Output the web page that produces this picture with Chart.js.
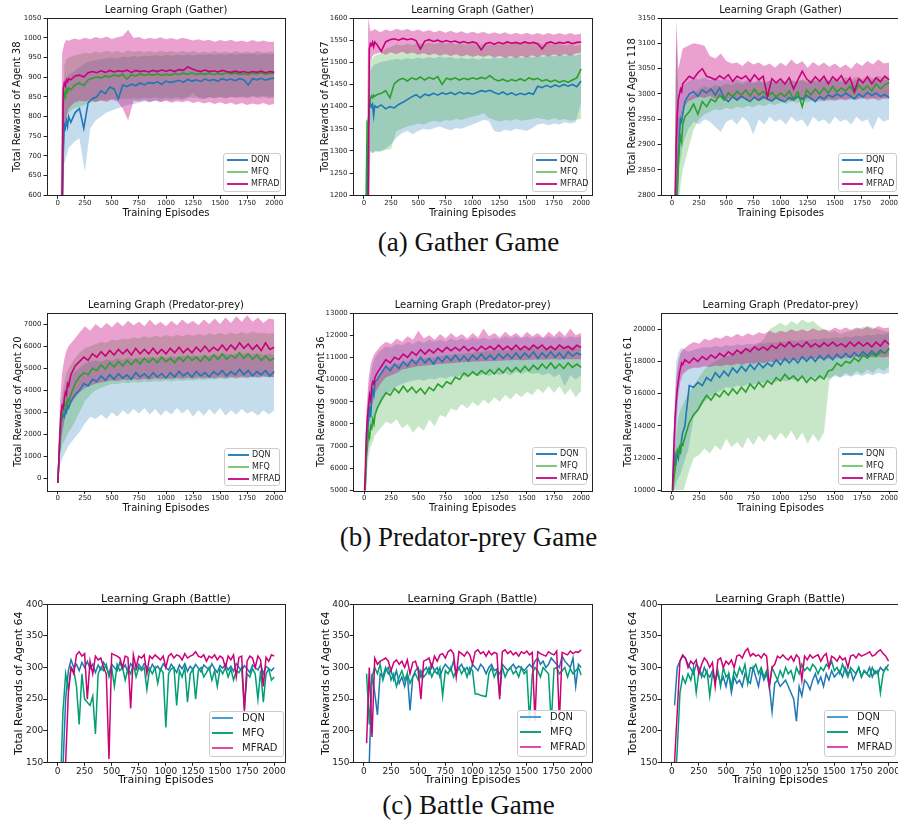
<!DOCTYPE html>
<html>
<head>
<meta charset="utf-8">
<script src="https://cdn.jsdelivr.net/npm/chart.js@4.4.0/dist/chart.umd.min.js"></script>
<style>
body { margin: 0; width: 898px; height: 820px; overflow: hidden; background: #fff; position: relative; font-family: "DejaVu Sans", sans-serif; }
canvas { position: absolute; }
.lg { position: absolute; border: 1px solid #ccc; border-radius: 3px; background: rgba(255,255,255,0.85); box-sizing: border-box; }
.lg div { position: absolute; white-space: nowrap; color: #222; }
.lg span { position: absolute; height: 2px; }
.cap { position: absolute; left: 0; width: 937px; text-align: center; font: 27px "Liberation Serif", serif; line-height: 30px; color: #111; }
</style>
</head>
<body>
<div class="cap" style="top:227px">(a) Gather Game</div>
<div class="cap" style="top:522px">(b) Predator-prey Game</div>
<div class="cap" style="top:790px">(c) Battle Game</div>
<script>
//episode grids (x values)
var epL = [0,10,20,30,40,50,60,70,80,90,100,
  120,160,200,240,280,320,360,400,440,480,520,560,
  600,640,680,720,760,800,840,880,920,960,1000,1040,
  1080,1120,1160,1200,1240,1280,1320,1360,1400,1440,1480,1520,
  1560,1600,1640,1680,1720,1760,1800,1840,1880,1920,1960,2000];
var epB = [0,20,40,60,80,100,
  150,200,250,300,350,400,450,500,550,600,
  650,700,750,800,850,900,950,1000,1050,1100,
  1150,1200,1250,1300,1350,1400,1450,1500,1550,1600,
  1650,1700,1750,1800,1850,1900,1950,2000];
var epC = [25,50,75,100,125,150,175,200,225,250,
  275,300,325,350,375,400,425,450,475,500,
  525,550,575,600,625,650,675,700,725,750,
  775,800,825,850,875,900,925,950,975,1000,
  1025,1050,1075,1100,1125,1150,1175,1200,1225,1250,
  1275,1300,1325,1350,1375,1400,1425,1450,1475,1500,
  1525,1550,1575,1600,1625,1650,1675,1700,1725,1750,
  1775,1800,1825,1850,1875,1900,1925,1950,1975,2000];

var xTicks = [0,250,500,750,1000,1250,1500,1750,2000];
var seriesNames = ['DQN', 'MFQ', 'MFRAD'];

//Gather - agent 38
var g38_yTicks = [600,650,700,750,800,850,900,950,1000,1050];
var g38_dqn = [450,450,450,450,520,700,780,770,790,775,800,
  785,810,820,770,835,845,850,865,858,875,870,845,
  880,876,882,878,885,880,886,884,888,882,890,886,
  889,892,887,894,890,893,889,895,891,894,890,896,
  892,895,891,896,893,880,896,893,897,892,896,897];
var g38_mfq = [450,450,450,450,560,830,860,850,870,862,872,
  868,880,885,878,893,897,900,898,903,900,906,902,
  907,895,906,903,908,904,907,905,908,904,907,905,
  909,906,910,907,911,906,909,907,910,906,909,907,
  911,908,910,907,909,906,910,908,911,907,910,909];
var g38_mfrad = [450,450,450,450,600,870,885,878,893,888,896,
  893,903,905,900,911,914,911,916,912,917,913,916,
  914,918,912,917,914,916,913,917,914,918,915,918,
  914,919,917,926,921,917,914,918,914,916,913,917,
  914,912,915,912,914,911,914,912,915,911,914,912];
var g38_mfradHi = [450,450,960,985,995,992, 998,995,1000,996,1002,998,1003,997,1001,1004,
  1020,999,1002,996,1000,997,1001,996,999,995, 1000,997,993,996,992,995,990,994,991,995,
  990,993,989,994,990,993,989,990];
var g38_mfradLo = [450,450,500,760,800,820, 835,840,838,842,836,841,837,843,838,820,
  790,840,838,842,837,841,836,840,835,839, 836,840,834,838,833,837,832,836,831,835,
  830,834,829,833,830,834,829,832];
var g38_mfqHi = [450,450,600,930,945,950, 955,958,962,960,965,962,967,963,966,962,
  968,964,967,963,966,962,967,963,966,962, 967,963,966,961,965,962,966,962,965,961,
  966,962,965,961,966,962,965,963];
var g38_mfqLo = [450,450,450,790,800,810, 820,825,830,835,838,840,842,845,843,846,
  844,847,845,848,846,849,845,848,846,849, 846,850,847,849,846,850,847,849,846,850,
  847,849,846,850,847,849,846,848];
var g38_dqnHi = [450,450,600,880,900,905, 915,925,935,940,943,945,948,950,947,952,
  950,954,951,955,952,956,953,957,954,957, 955,958,955,958,956,959,956,959,957,960,
  957,960,958,960,957,960,958,959];
var g38_dqnLo = [450,450,450,680,700,720, 735,745,660,770,790,800,810,815,820,825,
  830,832,835,838,836,840,838,842,840,844, 842,846,860,846,844,848,846,850,847,850,
  848,851,849,852,850,852,850,851];

//Gather - agent 67
var g67_yTicks = [1200,1250,1300,1350,1400,1450,1500,1550,1600];
var g67_dqn = [1100,1100,1100,1150,1360,1395,1408,1400,1405,1380,1402,
  1398,1404,1395,1400,1397,1405,1410,1416,1422,1427,1420,1428,
  1425,1430,1426,1431,1428,1432,1427,1433,1429,1431,1428,1432,
  1436,1434,1437,1432,1428,1433,1427,1431,1426,1430,1427,1431,
  1428,1446,1443,1448,1444,1449,1445,1450,1446,1450,1445,1458];
var g67_mfq = [1100,1100,1180,1362,1355,1400,1418,1424,1420,1426,1423,
  1427,1430,1436,1420,1452,1460,1464,1458,1465,1461,1467,1460,
  1466,1462,1468,1450,1464,1461,1465,1460,1464,1461,1465,1462,
  1466,1463,1470,1462,1458,1462,1457,1461,1458,1463,1458,1465,
  1461,1464,1458,1461,1456,1460,1455,1459,1455,1460,1465,1485];
var g67_mfrad = [1100,1100,1100,1100,1150,1530,1542,1538,1545,1535,1546,
  1540,1525,1546,1551,1553,1550,1554,1551,1553,1549,1530,1548,
  1551,1547,1550,1546,1549,1546,1548,1544,1547,1543,1546,1543,
  1528,1542,1545,1541,1545,1542,1546,1543,1545,1542,1546,1543,
  1545,1542,1530,1543,1546,1542,1545,1543,1546,1542,1545,1546];
var g67_mfradHi = [1100,1100,1600,1570,1572,1575, 1568,1574,1570,1576,1572,1575,1570,1574,1569,1573,
  1568,1572,1567,1571,1566,1570,1565,1569,1565,1569, 1564,1568,1564,1568,1563,1567,1563,1567,1562,1566,
  1562,1566,1562,1566,1562,1566,1562,1565];
var g67_mfradLo = [1100,1100,1100,1500,1515,1518, 1522,1517,1523,1518,1524,1519,1522,1517,1521,1516,
  1520,1515,1519,1514,1518,1513,1517,1512,1516,1512, 1516,1511,1515,1510,1514,1510,1515,1511,1516,1512,
  1517,1513,1518,1514,1519,1515,1520,1522];
var g67_mfqHi = [1100,1100,1400,1500,1510,1515, 1520,1530,1535,1540,1538,1542,1539,1543,1540,1544,
  1541,1545,1542,1544,1540,1543,1539,1542,1538,1542, 1539,1543,1540,1544,1541,1545,1542,1545,1541,1544,
  1540,1543,1539,1542,1538,1541,1537,1540];
var g67_mfqLo = [1100,1100,1100,1300,1295,1300, 1298,1302,1305,1345,1350,1355,1358,1362,1360,1365,
  1368,1365,1370,1368,1372,1370,1374,1378,1380,1385, 1375,1370,1366,1370,1368,1372,1368,1370,1372,1375,
  1372,1370,1374,1370,1372,1368,1370,1372];
var g67_dqnHi = [1100,1100,1100,1480,1490,1495, 1500,1503,1505,1508,1506,1510,1507,1511,1508,1512,
  1509,1513,1510,1512,1508,1511,1507,1510,1506,1510, 1507,1511,1508,1512,1509,1513,1510,1514,1511,1515,
  1512,1516,1513,1517,1514,1518,1515,1520];
var g67_dqnLo = [1100,1100,1100,1300,1295,1298, 1300,1305,1315,1330,1340,1345,1338,1345,1350,1348,
  1352,1355,1350,1347,1352,1350,1355,1360,1365,1370, 1368,1345,1342,1348,1345,1350,1348,1345,1352,1360,
  1362,1358,1362,1360,1365,1362,1365,1410];

//Gather - agent 118
var g118_yTicks = [2800,2850,2900,2950,3000,3050,3100,3150];
var g118_dqn = [2700,2700,2700,2700,2750,2820,2880,2920,2950,2945,2960,
  2985,3000,3005,2995,3008,3002,3010,2998,3012,2992,2985,2995,
  2988,2996,2990,2985,2994,2988,2995,2990,2986,2993,2988,2985,
  2993,2988,2995,2990,2997,2992,2985,2995,2990,2998,2994,3000,
  2995,3002,2996,2990,3000,2994,3003,2997,3002,2995,2999,2993];
var g118_mfq = [2700,2700,2700,2700,2750,2800,2860,2900,2915,2905,2940,
  2955,2965,2980,2960,2985,2975,2990,2985,2998,2988,3002,2995,
  3005,2998,3008,2996,3010,2998,3005,2995,3003,2994,3002,2995,
  3006,2990,3004,2975,3008,2998,3010,3000,3012,3002,3015,3004,
  3012,3006,3015,3002,3018,3008,3016,3006,3020,3010,3018,3022];
var g118_mfrad = [2700,2700,2700,2780,2900,2960,2990,3000,3010,3005,3020,
  3025,3035,3030,3042,3050,3035,3032,3028,3036,3030,3038,3025,
  3035,3030,3036,3025,3038,3028,3035,2995,3030,3022,3030,3020,
  3032,3010,3028,3045,3030,3022,3034,3025,3035,3020,3034,3026,
  3036,3020,3032,3005,3030,3022,3034,3020,3032,3024,3035,3028];
var g118_mfradHi = [2700,2700,3150,3050,3070,3090, 3095,3100,3098,3095,3075,3070,3080,3065,3060,3062,
  3055,3065,3058,3062,3055,3060,3052,3062,3055,3068, 3058,3065,3052,3063,3055,3062,3054,3060,3052,3058,
  3050,3062,3055,3065,3058,3068,3060,3062];
var g118_mfradLo = [2700,2700,2700,2900,2950,2970, 2985,2990,2995,2992,2996,2990,2994,2988,2993,2987,
  2992,2986,2991,2985,2990,2986,2991,2985,2990,2986, 2992,2987,2991,2986,2990,2985,2990,2986,2991,2987,
  2992,2988,2993,2988,2992,2987,2991,2990];
var g118_mfqHi = [2700,2700,3100,2950,2960,2975, 2990,3000,3010,3015,3012,3018,3015,3020,3017,3022,
  3019,3024,3020,3025,3021,3026,3022,3027,3023,3028, 3024,3029,3025,3030,3026,3031,3027,3032,3028,3033,
  3029,3034,3030,3035,3031,3036,3032,3035];
var g118_mfqLo = [2700,2700,2700,2780,2820,2850, 2890,2930,2950,2960,2965,2970,2968,2973,2970,2975,
  2972,2977,2974,2979,2976,2981,2978,2983,2980,2985, 2982,2986,2983,2988,2984,2989,2986,2990,2987,2991,
  2988,2992,2989,2993,2990,2994,2991,2995];
var g118_dqnHi = [2700,2700,3120,3000,3010,3015, 3025,3030,3028,3032,3027,3031,3026,3030,3025,3029,
  3024,3028,3023,3027,3022,3026,3021,3025,3022,3026, 3023,3027,3022,3026,3023,3027,3024,3028,3023,3027,
  3024,3028,3025,3029,3026,3030,3027,3028];
var g118_dqnLo = [2700,2700,2700,2850,2870,2900, 2930,2945,2940,2950,2945,2935,2925,2945,2950,2940,
  2955,2945,2920,2950,2940,2955,2945,2950,2940,2955, 2945,2950,2935,2955,2945,2950,2940,2955,2945,2950,
  2940,2955,2945,2950,2930,2955,2945,2950];

//Predator-prey - agent 20
var p20_yTicks = [0,1000,2000,3000,4000,5000,6000,7000];
var p20_dqn = [-200,800,1800,2500,2700,2900,2800,3100,3000,3300,3200,
  3500,3800,4000,4300,4200,4500,4400,4650,4450,4700,4500,4750,
  4550,4700,4500,4800,4600,4750,4550,4800,4600,4750,4550,4800,
  4600,4850,4650,4800,4600,4850,4650,4800,4600,4850,4700,4900,
  4650,4850,4700,4950,4700,4900,4650,4850,4700,4900,4650,4850];
var p20_mfq = [-200,800,1900,2600,2900,3100,3200,3400,3300,3600,3500,
  3800,4300,4600,4800,4700,5000,4900,5150,4950,5250,5050,5300,
  5100,5350,5150,5400,5200,5450,5250,5450,5250,5500,5300,5450,
  5250,5500,5300,5550,5350,5500,5300,5550,5350,5600,5400,5650,
  5400,5600,5450,5700,5450,5650,5400,5600,5350,5550,5350,5450];
var p20_mfrad = [-200,900,2200,3000,3300,3200,3600,3900,3800,4300,4200,
  4700,5100,5300,5500,5350,5650,5500,5750,5550,5800,5600,5850,
  5650,5850,5600,5900,5650,5850,5650,5900,5650,5850,5650,5900,
  5700,5950,5700,5900,5700,5950,5750,6000,5750,5950,5800,6050,
  5800,6050,5850,6150,5900,6100,5850,6050,5800,6150,5850,5950];
var p20_mfradHi = [-200,3500,4800,5400,5800,6000, 6300,6600,6900,6700,7000,6800,7050,6850,7100,6900,
  7150,6950,7100,6900,7200,6950,7100,6900,7150,6950, 7200,7000,7150,6950,7200,7000,7250,7000,7300,7050,
  7350,7100,7400,7100,7300,7050,7250,7200];
var p20_mfradLo = [-200,1200,2000,2600,3000,3200, 3600,3900,4100,4200,4300,4350,4400,4450,4420,4480,
  4450,4500,4460,4520,4480,4540,4500,4550,4510,4560, 4520,4570,4530,4580,4540,4590,4550,4600,4560,4610,
  4570,4620,4580,4630,4590,4640,4600,4600];
var p20_mfqHi = [-200,2600,3800,4400,4800,5000, 5400,5700,5900,6000,6100,6200,6150,6300,6250,6350,
  6300,6400,6350,6450,6380,6480,6400,6500,6420,6520, 6440,6540,6460,6560,6480,6580,6500,6600,6520,6620,
  6540,6640,6560,6660,6580,6620,6560,6600];
var p20_mfqLo = [-200,1000,1500,1700,1900,2100, 2500,3000,3500,3800,4000,4100,4200,4300,4280,4350,
  4320,4380,4350,4400,4370,4420,4390,4440,4400,4450, 4420,4470,4440,4490,4460,4510,4480,4530,4500,4550,
  4520,4570,4540,4590,4560,4600,4580,4600];
var p20_dqnHi = [-200,2300,3500,4000,4300,4500, 4800,5000,5200,5300,5350,5300,5400,5350,5450,5380,
  5480,5400,5500,5420,5520,5440,5540,5460,5560,5480, 5580,5500,5600,5520,5620,5540,5640,5560,5660,5580,
  5680,5600,5700,5620,5680,5600,5660,5600];
var p20_dqnLo = [-200,600,900,1100,1300,1500, 1800,2100,2500,2800,2700,2900,2700,3000,2800,3100,
  2900,3150,2950,3200,2900,3150,2850,3100,2900,3200, 2950,3150,2800,3100,2850,3150,2900,3200,2850,3100,
  2900,3150,2950,3050,2850,3100,2900,3100];

//Predator-prey - agent 36
var p36_yTicks = [5000,6000,7000,8000,9000,10000,11000,12000,13000];
var p36_dqn = [4500,5200,6800,7600,8200,8800,8300,9200,9500,9300,9900,
  10000,10300,10600,10400,10700,10500,10800,10600,10900,10700,11000,10750,
  10950,10700,11000,10800,11050,10850,11100,10850,11050,10850,11100,10900,
  11150,10900,11100,10900,11150,10950,11150,10950,11200,10950,11200,11000,
  11250,10950,11200,11000,11250,11000,11200,10950,11250,11050,11200,11100];
var p36_mfq = [4500,5000,6500,7000,7600,7400,7900,7800,8200,8000,8400,
  8700,9100,9400,9300,9600,9400,9700,9450,9650,9400,9600,9350,
  9650,9500,9800,9650,9900,9800,10100,10000,10300,10150,10350,10200,
  10400,10250,10450,10250,10500,10300,10550,10350,10550,10350,10600,10400,
  10650,10450,10700,10500,10750,10500,10700,10500,10750,10550,10700,10550];
var p36_mfrad = [4500,5800,7500,8300,8800,9300,9100,9700,9900,9800,10100,
  10300,10600,10900,10750,11000,10900,11150,11000,11250,11100,11350,11150,
  11350,11200,11400,11250,11450,11300,11450,11300,11500,11300,11450,11300,
  11500,11350,11500,11350,11550,11350,11500,11350,11550,11350,11500,11350,
  11550,11400,11550,11350,11500,11350,11550,11400,11500,11350,11550,11450];
var p36_mfradHi = [4500,8500,10000,10700,11000,11200, 11500,11700,11600,11850,11700,11950,11800,12200,11850,12000,
  11800,12050,11850,12100,11900,12050,11850,12100,11900,12300, 11950,12100,11900,12150,11950,12100,11900,12150,11950,12100,
  11900,12150,11950,12200,11950,12300,12000,12100];
var p36_mfradLo = [4500,6500,7800,8500,9000,9400, 9800,10100,10200,10300,10450,10500,10550,10600,10620,10650,
  10680,10700,10720,10740,10760,10780,10790,10800,10810,10820, 10830,10840,10850,10860,10870,10880,10870,10880,10890,10900,
  10890,10900,10910,10900,10910,10920,10910,10920];
var p36_mfqHi = [4500,7500,8800,9300,9600,9900, 10300,10500,10600,10700,10750,10800,10850,10900,10950,11000,
  11000,11050,11100,11100,11150,11150,11200,11200,11250,11250, 11300,11300,11350,11300,11350,11400,11350,11400,11400,11450,
  11400,11450,11400,11450,11500,11450,11500,11450];
var p36_mfqLo = [4500,5500,6500,7000,7200,7500, 7800,8100,8000,8200,7800,8000,7600,7900,7700,8200,
  7900,8400,8300,8700,8600,8900,8700,9000,8800,9100, 8900,9200,9000,9300,9100,9400,9200,9450,9300,9600,
  9400,9700,9400,9700,9300,9600,9200,9500];
var p36_dqnHi = [4500,8000,9500,10200,10700,11000, 11300,11500,11450,11600,11550,11700,11600,11750,11650,11800,
  11700,11800,11700,11850,11750,11850,11750,11900,11800,11900, 11800,11900,11800,11950,11850,11950,11850,11950,11850,11950,
  11850,11950,11850,11950,11850,11950,11900,11950];
var p36_dqnLo = [4500,6000,7000,7600,8000,8400, 8900,9300,9500,9700,9800,9900,9950,10000,9950,10050,
  10000,10100,10050,10150,10100,10200,10100,10250,10150,10250, 10150,10300,10200,10300,10200,10350,10250,10350,10250,10300,
  10200,10300,10100,10250,9700,10200,10000,10200];

//Predator-prey - agent 61
var p61_yTicks = [10000,12000,14000,16000,18000,20000];
var p61_dqn = [9000,10200,11500,12200,11800,12300,12000,12600,12400,13200,13600,
  14000,16500,16400,16700,16500,17000,16800,17300,17000,17400,17100,17600,
  17300,17700,17400,17800,17500,17900,17600,17900,17700,18100,17800,18200,
  17900,18200,17900,18300,18000,18300,18000,18350,18100,18400,18100,18450,
  18200,18500,18250,18550,18300,18600,18350,18650,18400,18700,18500,18800];
var p61_mfq = [9000,10000,10800,11300,12000,12500,12300,12700,12500,12900,12800,
  13300,14200,14700,15000,15500,15900,15600,16000,15800,16200,15900,16300,
  16000,16400,16100,16600,16300,16700,16400,16800,16600,17000,16800,17200,
  16900,17100,16800,17100,16700,17000,16800,17100,16900,17400,17500,17900,
  17700,18000,17900,18200,18000,18400,18200,18500,18300,18600,18500,18800];
var p61_mfrad = [9000,11000,13000,14500,15500,16300,16800,17300,17600,17900,17800,
  18100,17900,18200,18000,18300,18100,18400,18200,18500,18300,18600,18400,
  18700,18500,18800,18600,18900,18700,18900,18700,19000,18800,19100,18900,
  19200,18900,19100,18900,19200,18900,19100,18900,19150,18950,19200,18950,
  19100,18900,19200,18950,19200,18950,19150,18900,19200,18950,19300,19050];
var p61_mfradHi = [9000,14000,17000,18000,18500,18700, 19000,19200,19100,19400,19300,19500,19400,19600,19500,19700,
  19550,19750,19600,19800,19700,19900,19750,19900,19800,20000, 19850,20000,19850,20050,19900,20000,19900,20100,19950,20100,
  19950,20100,20000,20150,20000,20200,20050,20100];
var p61_mfradLo = [9000,11000,14000,16000,16800,17200, 17500,17600,17600,17700,17650,17750,17700,17800,17750,17850,
  17800,17900,17850,17950,17900,18000,17950,18050,18000,18100, 18050,18150,18100,18200,18150,18200,18150,18250,18200,18250,
  18200,18300,18250,18300,18250,18300,18250,18300];
var p61_mfqHi = [9000,12000,13500,14500,15000,15300, 16000,16500,17000,17500,17800,18000,18200,18300,18400,18500,
  18700,18800,18900,19100,19400,20000,20200,20400,20200,20500, 20300,20600,20400,20500,20200,20000,19800,19900,19700,19800,
  19900,20000,20100,20200,20100,20000,19900,19800];
var p61_mfqLo = [9000,9500,9500,9500,9500,9800, 11000,12000,12200,12600,12300,12800,12500,13200,12700,13000,
  12600,13300,12800,13400,13000,13500,13100,13600,13200,13700, 13100,13600,12900,13500,13000,13600,16800,17200,17000,17300,
  17100,17400,17200,17500,17300,17600,17400,17700];
var p61_dqnHi = [9000,14500,18000,18500,18800,18800, 18600,18700,18800,18900,18850,18950,18900,19000,18950,19050,
  19000,19100,19050,19150,19100,19200,19150,19250,19200,19300, 19250,19350,19300,19400,19350,19450,19400,19500,19450,19550,
  19500,19600,19550,19650,19600,19700,19650,19800];
var p61_dqnLo = [9000,10000,10500,10800,11000,11500, 12500,14500,15000,15500,15800,16000,16200,16400,16350,16500,
  16450,16600,16550,16700,16650,16800,16700,16850,16750,16900, 16800,16950,16850,17000,16900,17050,16950,17100,17000,17150,
  17050,17200,17100,17250,17150,17300,17200,17300];

//Battle - three runs, agent 64
var battle_yTicks = [150,200,250,300,350,400];
var b1_dqn = [100,140,250,295,312,300,305,295,308,300, 310,298,305,292,304,296,308,300,290,305,
  300,295,308,298,304,292,306,300,296,305, 298,306,300,294,305,298,302,295,306,300,
  296,305,299,292,304,298,306,294,302,297, 305,299,293,304,300,296,306,298,292,303,
  299,305,296,302,294,306,300,295,303,298, 292,304,300,296,305,290,302,298,295,300];
var b1_mfq = [100,230,290,265,300,295,270,210,290,250, 245,240,255,195,290,300,295,305,285,300,
  270,305,295,300,280,298,290,305,285,300, 295,300,265,298,290,300,275,298,292,205,
  290,298,300,240,295,285,300,245,290,298, 250,295,300,285,292,300,280,295,270,298,
  290,300,285,298,280,295,292,300,235,290, 285,298,290,250,295,245,290,298,280,285];
var b1_mfrad = [100,100,150,260,300,290,320,325,318,322, 250,310,290,318,312,315,300,290,155,322,
  320,318,315,300,318,316,235,320,300,318, 315,320,290,318,314,320,316,312,318,300,
  318,322,315,320,318,312,322,315,318,320, 325,318,316,320,310,318,315,320,312,318,
  315,300,318,312,320,285,316,318,230,310, 318,315,300,318,312,270,316,310,320,318];
var b2_dqn = [100,150,290,260,225,290,285,300,290,295, 280,295,275,285,270,290,232,285,295,300,
  285,295,300,290,305,295,300,285,298,305, 300,295,310,290,300,305,295,300,290,305,
  300,295,305,300,290,300,305,295,298,255, 305,300,295,300,305,298,302,300,295,300,
  305,300,310,315,305,310,300,305,315,310, 305,300,318,310,305,300,315,270,305,300];
var b2_mfq = [290,210,285,300,290,305,280,295,300,280, 290,270,285,295,280,290,275,285,290,280,
  295,285,290,300,285,295,290,300,255,295, 290,300,285,295,300,290,298,285,300,295,
  258,258,256,255,254,290,300,285,295,290, 300,285,295,300,290,295,285,300,290,295,
  215,290,300,295,285,300,295,290,210,298, 300,290,295,300,285,298,290,295,300,288];
var b2_mfrad = [180,300,190,315,305,310,312,315,310,295, 308,312,305,310,300,312,290,308,310,295,
  250,310,312,315,300,318,310,320,322,315, 325,328,322,285,325,322,318,325,320,305,
  325,328,322,325,318,326,320,324,322,250, 325,328,322,326,320,324,318,325,322,326,
  320,324,215,325,322,320,318,325,322,320, 326,215,324,322,320,326,322,325,324,328];
var b3_dqn = [240,300,310,318,315,305,298,290,305,300, 285,300,290,285,295,280,290,275,285,270,
  290,260,285,275,280,270,290,280,275,300, 285,270,295,280,290,270,230,275,280,270,
  275,280,270,260,250,215,270,255,280,275, 265,280,290,275,285,270,290,280,295,285,
  290,295,285,300,290,295,280,290,300,285, 295,290,300,285,295,290,300,295,298,305];
var b3_mfq = [100,170,260,285,275,290,280,300,260,295, 290,285,295,255,290,280,295,270,300,285,
  290,270,295,285,300,290,305,275,300,298, 305,290,300,285,295,270,300,290,280,295,
  285,300,290,295,280,300,290,305,295,300, 295,305,300,290,300,295,305,300,310,295,
  300,290,305,295,285,300,295,290,300,285, 295,290,285,300,290,295,260,290,300,295];
var b3_mfrad = [150,230,310,320,315,300,310,305,312,290, 305,315,310,300,308,270,312,315,300,310,
  305,312,300,318,320,315,325,330,318,322, 318,320,315,322,318,270,300,305,318,315,
  320,315,312,318,310,320,315,280,318,312, 320,315,318,320,310,318,322,300,318,315,
  310,318,312,315,300,318,320,315,322,318, 320,322,325,318,320,325,328,322,318,310];

var FONT = '"DejaVu Sans", sans-serif';

//looks of the two kinds of panels
var shadedStyle = {
  lineColors: ['#1f77b4', '#2ca02c', '#c7007d'],
  bandColors: ['rgba(31,119,180,0.26)', 'rgba(44,160,44,0.26)', 'rgba(199,0,125,0.37)'],
  legendColors: ['#2f82c0', '#80c880', '#cc1e8a'],
  lw: 1.6, titleSize: 10, tickSize: 7, yTickPad: 2, labelSize: 10, xTitleBottom: 6,
  legend: {lx: 3, lw: 21, tx: 27, y0: 6, dy: 12, fs: 8}
};
var battleStyle = {
  lineColors: ['#1f77b4', '#009e73', '#cc0077'],
  bandColors: [],
  legendColors: ['#4a9fd8', '#14a27a', '#e04aae'],
  lw: 1.5, titleSize: 11, tickSize: 9, yTickPad: 0, labelSize: 11, xTitleBottom: 13.4,
  legend: {lx: 2, lw: 21, tx: 32, y0: 6, dy: 15, fs: 10}
};

var panels = [
  {box: [0, 0, 300, 225], yW: 47, xH: 29.7, padR: 15, titlePad: {top: 4, bottom: 2}, yPad: 11.3,
   title: 'Learning Graph (Gather)', yLabel: 'Total Rewards of Agent 38', yMin: 600, yMax: 1050, yTicks: g38_yTicks,
   st: shadedStyle, lx: epL, bx: epB, lines: [g38_dqn, g38_mfq, g38_mfrad],
   bands: [[g38_dqnLo, g38_dqnHi], [g38_mfqLo, g38_mfqHi], [g38_mfradLo, g38_mfradHi]], legend: [223, 153, 58, 39]},
  {box: [300, 0, 300, 225], yW: 53, xH: 29.7, padR: 8, titlePad: {top: 4, bottom: 2}, yPad: 19,
   title: 'Learning Graph (Gather)', yLabel: 'Total Rewards of Agent 67', yMin: 1200, yMax: 1600, yTicks: g67_yTicks,
   st: shadedStyle, lx: epL, bx: epB, lines: [g67_dqn, g67_mfq, g67_mfrad],
   bands: [[g67_dqnLo, g67_dqnHi], [g67_mfqLo, g67_mfqHi], [g67_mfradLo, g67_mfradHi]], legend: [532, 153, 55, 39]},
  {box: [600, 0, 300, 225], yW: 61, xH: 29.7, padR: 0, titlePad: {top: 4, bottom: 2}, yPad: 26.3,
   title: 'Learning Graph (Gather)', yLabel: 'Total Rewards of Agent 118', yMin: 2800, yMax: 3150, yTicks: g118_yTicks,
   st: shadedStyle, lx: epL, bx: epB, lines: [g118_dqn, g118_mfq, g118_mfrad],
   bands: [[g118_dqnLo, g118_dqnHi], [g118_mfqLo, g118_mfqHi], [g118_mfradLo, g118_mfradHi]], legend: [838, 153, 59, 39]},

  {box: [0, 290, 300, 230], yW: 47, xH: 29.5, padR: 15, titlePad: {top: 9, bottom: 2}, yPad: 12.3,
   title: 'Learning Graph (Predator-prey)', yLabel: 'Total Rewards of Agent 20', yMin: -540, yMax: 7500, yTicks: p20_yTicks,
   st: shadedStyle, lx: epL, bx: epB, lines: [p20_dqn, p20_mfq, p20_mfrad],
   bands: [[p20_dqnLo, p20_dqnHi], [p20_mfqLo, p20_mfqHi], [p20_mfradLo, p20_mfradHi]], legend: [224, 448, 56, 38]},
  {box: [300, 290, 300, 230], yW: 53.3, xH: 29.5, padR: 8, titlePad: {top: 9, bottom: 2}, yPad: 15.7,
   title: 'Learning Graph (Predator-prey)', yLabel: 'Total Rewards of Agent 36', yMin: 5000, yMax: 13000, yTicks: p36_yTicks,
   st: shadedStyle, lx: epL, bx: epB, lines: [p36_dqn, p36_mfq, p36_mfrad],
   bands: [[p36_dqnLo, p36_dqnHi], [p36_mfqLo, p36_mfqHi], [p36_mfradLo, p36_mfradHi]], legend: [532, 447, 55, 38]},
  {box: [600, 290, 300, 230], yW: 61, xH: 29.5, padR: 0, titlePad: {top: 9, bottom: 2}, yPad: 22.3,
   title: 'Learning Graph (Predator-prey)', yLabel: 'Total Rewards of Agent 61', yMin: 10000, yMax: 21000, yTicks: p61_yTicks,
   st: shadedStyle, lx: epL, bx: epB, lines: [p61_dqn, p61_mfq, p61_mfrad],
   bands: [[p61_dqnLo, p61_dqnHi], [p61_mfqLo, p61_mfqHi], [p61_mfradLo, p61_mfradHi]], legend: [838, 447, 59, 38]},

  {box: [0, 585, 300, 215], yW: 46.7, xH: 37.7, padR: 15, titlePad: {top: 7.4, bottom: -1.3}, yPad: 12.4,
   title: 'Learning Graph (Battle)', yLabel: 'Total Rewards of Agent 64', yMin: 150, yMax: 400, yTicks: battle_yTicks,
   st: battleStyle, lx: epC, bx: null, lines: [b1_dqn, b1_mfq, b1_mfrad], bands: [], legend: [209, 711, 75, 46]},
  {box: [300, 585, 300, 215], yW: 53, xH: 37.7, padR: 8, titlePad: {top: 7.4, bottom: -1.3}, yPad: 19.4,
   title: 'Learning Graph (Battle)', yLabel: 'Total Rewards of Agent 64', yMin: 150, yMax: 400, yTicks: battle_yTicks,
   st: battleStyle, lx: epC, bx: null, lines: [b2_dqn, b2_mfq, b2_mfrad], bands: [], legend: [517, 710, 70, 47]},
  {box: [600, 585, 300, 215], yW: 61, xH: 37.7, padR: 0, titlePad: {top: 7.4, bottom: -1.3}, yPad: 26.4,
   title: 'Learning Graph (Battle)', yLabel: 'Total Rewards of Agent 64', yMin: 150, yMax: 400, yTicks: battle_yTicks,
   st: battleStyle, lx: epC, bx: null, lines: [b3_dqn, b3_mfq, b3_mfrad], bands: [], legend: [824, 710, 72, 47]}
];

function pts(xs, ys) {
  return xs.map(function (x, i) { return {x: x, y: ys[i]}; });
}

//black box round the plot, like the matplotlib spines
var frame = {
  id: 'frame',
  afterDraw: function (chart) {
    var a = chart.chartArea, c = chart.ctx;
    c.save();
    c.strokeStyle = '#222';
    c.lineWidth = 1;
    c.strokeRect(Math.round(a.left) + 0.5, Math.round(a.top) + 0.5,
      Math.round(a.right - a.left), Math.round(a.bottom - a.top));
    c.restore();
  }
};

function addLegend(p) {
  var st = p.st, L = st.legend;
  var d = document.createElement('div');
  d.className = 'lg';
  d.style.left = p.legend[0] + 'px';
  d.style.top = p.legend[1] + 'px';
  d.style.width = p.legend[2] + 'px';
  d.style.height = p.legend[3] + 'px';
  seriesNames.forEach(function (n, i) {
    var ln = document.createElement('span');
    ln.style.left = L.lx + 'px';
    ln.style.width = L.lw + 'px';
    ln.style.top = (L.y0 + i * L.dy - 1) + 'px';
    ln.style.background = st.legendColors[i];
    d.appendChild(ln);
    var t = document.createElement('div');
    t.textContent = n;
    t.style.left = L.tx + 'px';
    t.style.top = (L.y0 + i * L.dy - L.fs * 0.6) + 'px';
    t.style.fontSize = L.fs + 'px';
    t.style.lineHeight = (L.fs * 1.2) + 'px';
    d.appendChild(t);
  });
  document.body.appendChild(d);
}

function drawPanel(p) {
  var st = p.st;
  var cv = document.createElement('canvas');
  cv.width = p.box[2];
  cv.height = p.box[3];
  cv.style.left = p.box[0] + 'px';
  cv.style.top = p.box[1] + 'px';
  document.body.appendChild(cv);

  var datasets = [];
  //bands under everything, MFRAD band over the others
  p.bands.forEach(function (b, k) {
    var lo = datasets.length;
    datasets.push({data: pts(p.bx, b[0]), borderWidth: 0, borderColor: 'rgba(0,0,0,0)',
      pointRadius: 0, fill: false, order: 30 - k * 10});
    datasets.push({data: pts(p.bx, b[1]), borderWidth: 0, borderColor: 'rgba(0,0,0,0)',
      pointRadius: 0, fill: lo, backgroundColor: st.bandColors[k], order: 30 - k * 10});
  });
  p.lines.forEach(function (ys, k) {
    datasets.push({label: seriesNames[k], data: pts(p.lx, ys), borderColor: st.lineColors[k],
      borderWidth: st.lw, pointRadius: 0, fill: false, tension: 0, order: 3 - k});
  });

  var tickFont = {family: FONT, size: st.tickSize};
  var labelFont = {family: FONT, size: st.labelSize, lineHeight: 1.2};
  var gridCfg = {display: true, drawOnChartArea: false, drawTicks: true, tickLength: 3.5, color: '#222', lineWidth: 1};

  new Chart(cv, {
    type: 'line',
    data: {datasets: datasets},
    options: {
      responsive: false,
      animation: false,
      devicePixelRatio: 1,
      layout: {padding: {left: 0, right: p.padR, top: 0, bottom: 0}},
      plugins: {
        legend: {display: false},
        tooltip: {enabled: false},
        title: {display: true, fullSize: false, text: p.title, color: '#111',
          font: {family: FONT, size: st.titleSize, weight: 'normal', lineHeight: 1.2}, padding: p.titlePad}
      },
      scales: {
        x: {
          type: 'linear', bounds: 'data', min: -100, max: 2100,
          afterFit: function (s) { s.height = p.xH; },
          afterBuildTicks: function (s) { s.ticks = xTicks.map(function (v) { return {value: v}; }); },
          grid: gridCfg,
          border: {display: false},
          ticks: {autoSkip: false, maxRotation: 0, color: '#222', font: tickFont, padding: 0,
            callback: function (v) { return String(v); }},
          title: {display: true, text: 'Training Episodes', color: '#111', font: labelFont,
            padding: {top: 0, bottom: st.xTitleBottom}}
        },
        y: {
          type: 'linear', bounds: 'data', min: p.yMin, max: p.yMax,
          afterFit: function (s) { s.width = p.yW; },
          afterBuildTicks: function (s) { s.ticks = p.yTicks.map(function (v) { return {value: v}; }); },
          grid: gridCfg,
          border: {display: false},
          ticks: {color: '#222', font: tickFont, padding: st.yTickPad,
            callback: function (v) { return String(v); }},
          title: {display: true, text: p.yLabel, color: '#111', font: labelFont,
            padding: {top: p.yPad, bottom: 0}}
        }
      }
    },
    plugins: [frame]
  });
  addLegend(p);
}

panels.forEach(drawPanel);
</script>
</body>
</html>
